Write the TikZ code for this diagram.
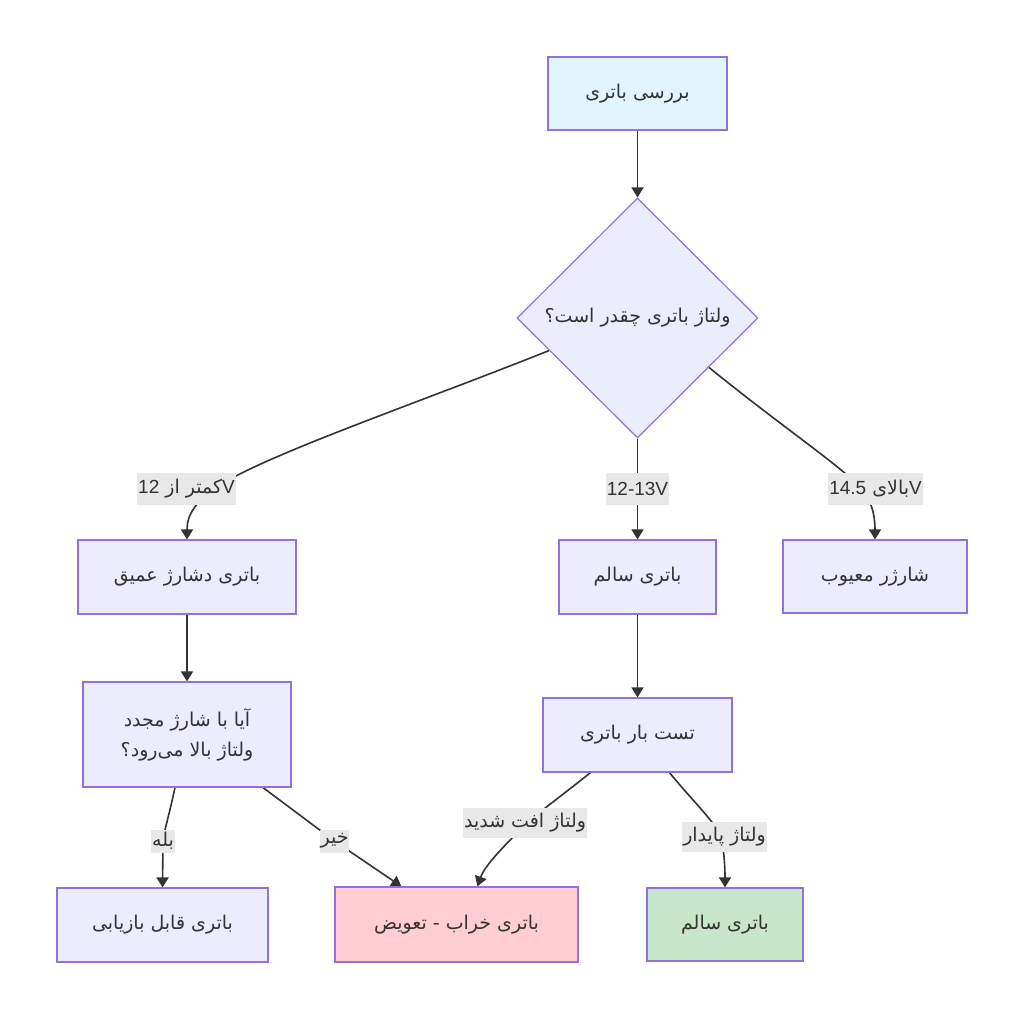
\documentclass[tikz,border=0pt]{standalone}
\usepackage{fontspec}
\usetikzlibrary{shapes.geometric,arrows.meta,calc}
\newfontfamily\fa[Script=Arabic]{DejaVu Sans}
\newfontfamily\la{Liberation Sans}
\TeXXeTstate=1
\definecolor{nodefill}{HTML}{ECECFF}
\definecolor{nodeline}{HTML}{9370DB}
\definecolor{startfill}{HTML}{E1F5FE}
\definecolor{badfill}{HTML}{FFCDD2}
\definecolor{goodfill}{HTML}{C8E6C9}
\definecolor{lblfill}{HTML}{E8E8E8}
\definecolor{ink}{HTML}{333333}
\pgfdeclarelayer{paper}
\pgfdeclarelayer{edges}
\pgfsetlayers{paper,edges,main}
\begin{document}
\begin{tikzpicture}[x=1pt,y=-1pt,
  box/.style={draw=nodeline, fill=nodefill, line width=1.2pt, inner sep=0pt, text=ink,
              font=\fontsize{19}{30}\selectfont, align=center},
  dec/.style={box, diamond, aspect=1},
  lbl/.style={fill=lblfill, inner xsep=1pt, inner ysep=0pt, text=ink,
              font=\fontsize{19}{24}\selectfont},
  flow/.style={draw=ink, line width=1.6pt, -{Triangle[length=10pt,width=12pt]}}
]
\begin{pgfonlayer}{paper}
\fill[white] (0,0) rectangle (1024,1018);
\end{pgfonlayer}
\useasboundingbox (0,0) rectangle (1024,1018);

% nodes
\node[box, fill=startfill, minimum width=179pt, minimum height=73pt] (top) at (637.5,93.5)
  {\fa\beginR بررسی باتری\endR};
\node[dec, minimum width=241pt, minimum height=240pt] (d) at (637.5,318)
  {\fa\beginR ولتاژ باتری چقدر است؟\endR};
\node[box, minimum width=218pt, minimum height=74pt] (b1) at (187,577)
  {\fa\beginR باتری دشارژ عمیق\endR};
\node[box, minimum width=157pt, minimum height=74pt] (b2) at (637.5,577)
  {\fa\beginR باتری سالم\endR};
\node[box, minimum width=184pt, minimum height=73pt] (b3) at (875,576.5)
  {\fa\beginR شارژر معیوب\endR};
\node[box, minimum width=208pt, minimum height=105pt] (c1) at (187,734.5)
  {{\fa\beginR آیا با شارژ مجدد\endR}\\{\fa\beginR ولتاژ بالا می‌رود؟\endR}};
\node[box, minimum width=189pt, minimum height=74pt] (c2) at (637.5,735)
  {\fa\beginR تست بار باتری\endR};
\node[box, minimum width=211pt, minimum height=74pt] (e1) at (162.5,925)
  {\fa\beginR باتری قابل بازیابی\endR};
\node[box, fill=badfill, minimum width=243pt, minimum height=75pt] (e2) at (456.5,924.5)
  {\fa\beginR باتری خراب - تعویض\endR};
\node[box, fill=goodfill, minimum width=156pt, minimum height=73pt] (e3) at (725,924.5)
  {\fa\beginR باتری سالم\endR};

% edge labels
\node[lbl, minimum height=32pt] (l1) at (186.5,489)
  {\fa\beginR کمتر از \beginL{\la 12}\endL\endR{\la V}};
\node[lbl, minimum height=32pt] (l2) at (637.5,489) {\la 12-13V};
\node[lbl, minimum height=32pt] (l3) at (875.5,489)
  {\fa\beginR بالای \beginL{\la 14.5}\endL\endR{\la V}};
\node[lbl, minimum height=23pt] (l4) at (163,841) {\fa\beginR بله\endR};
\node[lbl, minimum height=23pt] (l5) at (334.5,841) {\fa\beginR خیر\endR};
\node[lbl, minimum height=30pt] (l6) at (525,823) {\fa\beginR ولتاژ افت شدید\endR};
\node[lbl, minimum height=30pt] (l7) at (724.5,837) {\fa\beginR ولتاژ پایدار\endR};

% connectors
\begin{pgfonlayer}{edges}
\coordinate (dl) at ($(d.west)!0.27!(d.south)$);
\coordinate (dr) at ($(d.east)!0.41!(d.south)$);
\draw[flow] (top.south) -- (d.north);
\draw[flow] (dl) .. controls (420,402) and (280,450) .. (225,482)
  .. controls (195,500) and (187,515) .. (b1.north);
\draw[flow] (d.south) -- (l2) -- (b2.north);
\draw[flow] (dr) .. controls (780,425) and (835,462) .. (858,485)
  .. controls (872,500) and (875,515) .. (b3.north);
\draw[flow] (b1.south) -- (c1.north);
\draw[flow] (b2.south) -- (c2.north);
\draw[flow] ([xshift=-12pt]c1.south) .. controls (168,820) and (163,835) .. (l4.center)
  -- (e1.north);
\draw[flow] ([xshift=76pt]c1.south) -- (l5.center) -- ([xshift=67pt]e2.north west);
\draw[flow] ([xshift=-47pt]c2.south) .. controls (560,797) and (535,815) .. (525,825)
  .. controls (505,845) and (485,865) .. ([xshift=143pt]e2.north west);
\draw[flow] ([xshift=32pt]c2.south) .. controls (690,798) and (715,822) .. (720,835)
  .. controls (724,848) and (725,865) .. (e3.north);
\end{pgfonlayer}
\end{tikzpicture}
\end{document}
